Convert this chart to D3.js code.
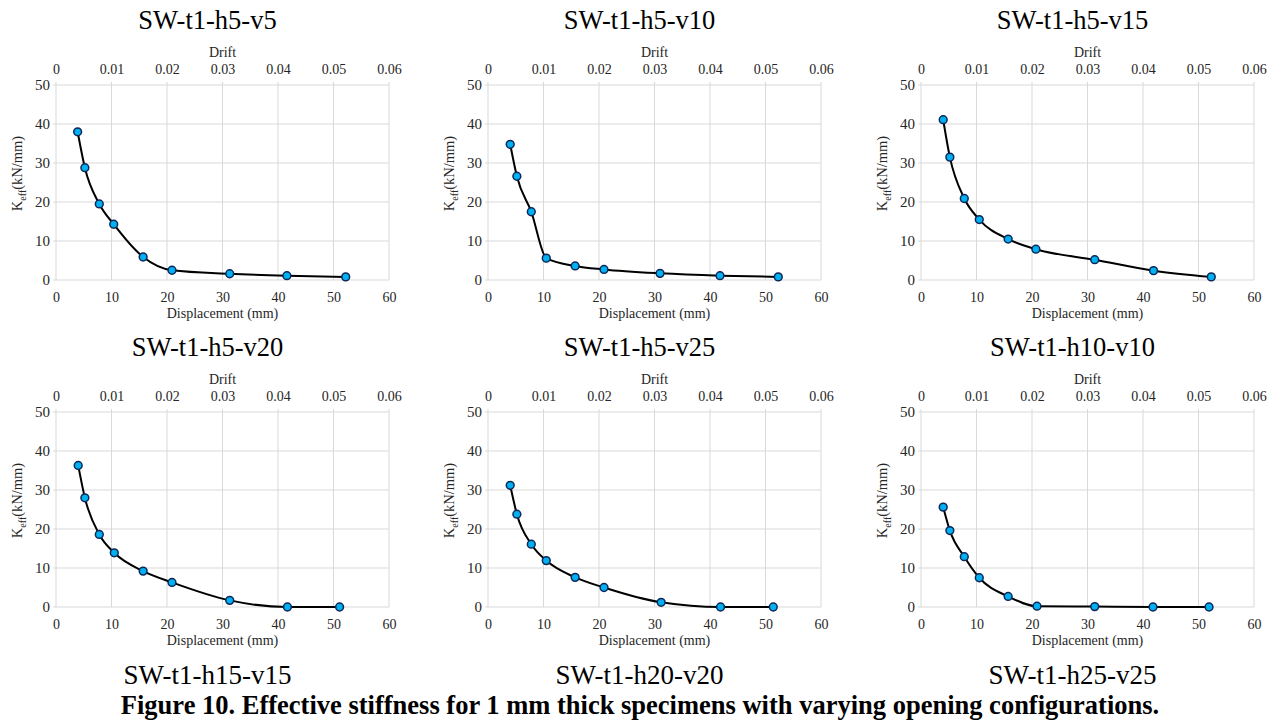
<!DOCTYPE html>
<html>
<head>
<meta charset="utf-8">
<script src="https://cdn.jsdelivr.net/npm/d3@7"></script>
<style>
  body { margin: 0; background: #fff; }
  svg, svg text { font-family: "Liberation Serif", "Times New Roman", serif; }
</style>
</head>
<body>
<div id="fig"></div>
<script>
// data
const titles = ["SW-t1-h5-v5", "SW-t1-h5-v10", "SW-t1-h5-v15", "SW-t1-h5-v20", "SW-t1-h5-v25", "SW-t1-h10-v10"]
const bottomLabels = ["SW-t1-h15-v15", "SW-t1-h20-v20", "SW-t1-h25-v25"]
const caption = "Figure 10. Effective stiffness for 1 mm thick specimens with varying opening configurations."

const dispA = [3.9, 5.2, 7.8, 10.4, 15.7, 20.9, 31.3, 41.6, 52.2]
const dispB = [4.0, 5.2, 7.8, 10.5, 15.7, 20.9, 31.0, 41.8, 52.3]
const dispC = [4.0, 5.2, 7.8, 10.5, 15.7, 20.7, 31.3, 41.9, 52.3]
const dispD = [4.0, 5.2, 7.8, 10.5, 15.7, 20.9, 31.3, 41.7, 51.1]
const dispE = [4.0, 5.2, 7.8, 10.5, 15.7, 20.9, 31.2, 41.9, 51.4]
const dispF = [4.0, 5.2, 7.8, 10.5, 15.7, 20.9, 31.3, 41.8, 51.9]

const keffA = [38.0, 28.8, 19.5, 14.3, 5.9, 2.5, 1.6, 1.1, 0.8]
const keffB = [34.8, 26.6, 17.5, 5.6, 3.6, 2.7, 1.7, 1.1, 0.8]
const keffC = [41.1, 31.5, 20.9, 15.5, 10.5, 7.9, 5.2, 2.4, 0.8]
const keffD = [36.3, 28.0, 18.6, 13.9, 9.2, 6.3, 1.7, 0.0, 0.0]
const keffE = [31.2, 23.8, 16.1, 11.9, 7.6, 5.0, 1.2, 0.0, 0.0]
const keffF = [25.6, 19.6, 12.9, 7.5, 2.7, 0.2, 0.1, 0.0, 0.0]

const dispSets = [dispA, dispB, dispC, dispD, dispE, dispF]
const keffSets = [keffA, keffB, keffC, keffD, keffE, keffF]

const xTicks = [0, 10, 20, 30, 40, 50, 60]
const driftTicks = [0, 0.01, 0.02, 0.03, 0.04, 0.05, 0.06]
const yTicks = [0, 10, 20, 30, 40, 50]

// layout
const width = 1274, height = 720
const colLeft = [56, 488, 921]
const rowTop = [85, 412]
const plotW = 333, plotH = 195
const serif = "'Liberation Serif', 'Times New Roman', serif"

const svg = d3.select("#fig").append("svg")
  .attr("width", width)
  .attr("height", height)

svg.append("rect").attr("width", width).attr("height", height).attr("fill", "#fff")

titles.forEach((title, i) => {
  const col = i % 3, row = Math.floor(i / 3)
  const g = svg.append("g")
    .attr("transform", `translate(${colLeft[col]},${rowTop[row]})`)

  const xScale = d3.scaleLinear().domain([0, 60]).range([0, plotW])
  const driftScale = d3.scaleLinear().domain([0, 0.06]).range([0, plotW])
  const yScale = d3.scaleLinear().domain([0, 50]).range([plotH, 0])

  // grid
  g.selectAll(".vgrid").data(xTicks).join("line")
    .attr("class", "vgrid")
    .attr("x1", d => xScale(d)).attr("x2", d => xScale(d))
    .attr("y1", -3).attr("y2", plotH)
    .attr("stroke", "#d9d9d9").attr("stroke-width", 1)
  g.selectAll(".hgrid").data(yTicks).join("line")
    .attr("class", "hgrid")
    .attr("x1", -3).attr("x2", plotW)
    .attr("y1", d => yScale(d)).attr("y2", d => yScale(d))
    .attr("stroke", "#d9d9d9").attr("stroke-width", 1)

  // axes (labels only, grid above does the lines)
  const bottomAxis = g.append("g")
    .attr("transform", `translate(0,${plotH})`)
    .call(d3.axisBottom(xScale).tickValues(xTicks).tickSize(0).tickPadding(12))
  const topAxis = g.append("g")
    .call(d3.axisTop(driftScale).tickValues(driftTicks).tickSize(0).tickPadding(11)
      .tickFormat(d => d === 0 ? "0" : d3.format(".2f")(d)))
  const leftAxis = g.append("g")
    .call(d3.axisLeft(yScale).tickValues(yTicks).tickSize(0).tickPadding(6))

  ;[bottomAxis, topAxis, leftAxis].forEach(a => {
    a.attr("font-family", null)
    a.select(".domain").remove()
    a.selectAll("text")
      .style("font-family", serif)
      .style("font-size", a === leftAxis ? "15px" : "14px")
      .attr("fill", "#262626")
  })

  // axis titles
  g.append("text")
    .attr("x", plotW / 2).attr("y", plotH + 38)
    .attr("text-anchor", "middle")
    .attr("font-size", 14).attr("fill", "#262626")
    .text("Displacement (mm)")
  g.append("text")
    .attr("x", plotW / 2).attr("y", -28)
    .attr("text-anchor", "middle")
    .attr("font-size", 14).attr("fill", "#262626")
    .text("Drift")
  const yLab = g.append("text")
    .attr("transform", `translate(-34,${plotH / 2 - 9}) rotate(-90)`)
    .attr("text-anchor", "middle")
    .attr("font-size", 14.5).attr("fill", "#262626")
  yLab.append("tspan").text("K")
  yLab.append("tspan").attr("font-size", 10).attr("dy", 4).text("eff")
  yLab.append("tspan").attr("dy", -4).text("(kN/mm)")

  // chart title
  g.append("text")
    .attr("x", plotW / 2 - 15).attr("y", -56)
    .attr("text-anchor", "middle")
    .attr("font-size", 26.5).attr("fill", "#000")
    .text(title)

  // data
  const pts = dispSets[i].map((d, j) => ({ x: d, y: keffSets[i][j] }))
  const lineGenerator = d3.line()
    .x(p => xScale(p.x))
    .y(p => yScale(p.y))
    .curve(d3.curveMonotoneX)

  g.append("path")
    .attr("d", lineGenerator(pts))
    .attr("fill", "none")
    .attr("stroke", "#000")
    .attr("stroke-width", 2)

  g.selectAll("circle").data(pts).join("circle")
    .attr("cx", p => xScale(p.x))
    .attr("cy", p => yScale(p.y))
    .attr("r", 3.9)
    .attr("fill", "#00b0f0")
    .attr("stroke", "#0d2858")
    .attr("stroke-width", 1.5)
})

// bottom specimen labels
bottomLabels.forEach((t, i) => {
  svg.append("text")
    .attr("x", colLeft[i] + plotW / 2 - 15).attr("y", 684)
    .attr("text-anchor", "middle")
    .attr("font-size", 27).attr("fill", "#000")
    .text(t)
})

svg.append("text")
  .attr("x", 640).attr("y", 714)
  .attr("text-anchor", "middle")
  .attr("font-size", 26.5).attr("font-weight", "bold").attr("fill", "#000")
  .text(caption)
</script>
</body>
</html>
